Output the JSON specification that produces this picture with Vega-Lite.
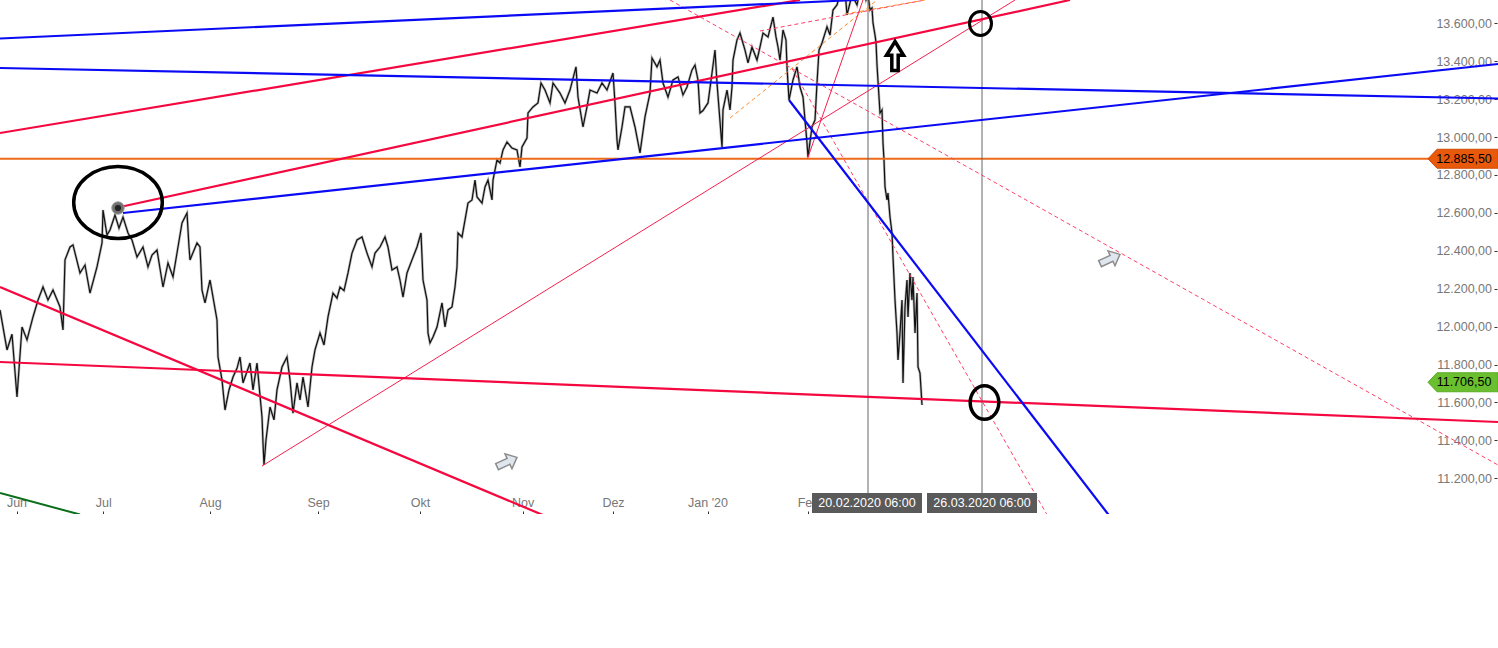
{
  "$schema": "https://vega.github.io/schema/vega-lite/v6.json",
  "width": 1498,
  "height": 514,
  "autosize": "none",
  "padding": 0,
  "background": "white",
  "config": {"view": {"stroke": null}},
  "datasets": {
    "px": [
      {"t":0,"p":12088},{"t":7,"p":11877},{"t":12,"p":11960},{"t":17,"p":11629},{"t":22,"p":11998},{"t":27,"p":11930},{"t":33,"p":12051},{"t":38,"p":12140},{"t":43,"p":12209},{"t":48,"p":12140},{"t":53,"p":12193},{"t":60,"p":12104},{"t":63,"p":11982},{"t":65,"p":12352},{"t":70,"p":12420},{"t":73,"p":12431},{"t":80,"p":12283},{"t":85,"p":12325},{"t":90,"p":12177},{"t":97,"p":12315},{"t":102,"p":12441},{"t":103,"p":12615},{"t":107,"p":12483},{"t":110,"p":12510},{"t":115,"p":12589},{"t":119,"p":12520},{"t":123,"p":12578},{"t":128,"p":12494},{"t":132,"p":12457},{"t":137,"p":12367},{"t":143,"p":12420},{"t":148,"p":12315},{"t":152,"p":12378},{"t":157,"p":12404},{"t":163,"p":12209},{"t":168,"p":12336},{"t":173,"p":12262},{"t":178,"p":12420},{"t":182,"p":12547},{"t":187,"p":12599},{"t":189,"p":12420},{"t":190,"p":12352},{"t":197,"p":12441},{"t":200,"p":12420},{"t":202,"p":12193},{"t":205,"p":12125},{"t":210,"p":12246},{"t":213,"p":12156},{"t":217,"p":12035},{"t":218,"p":11840},{"t":222,"p":11719},{"t":225,"p":11560},{"t":229,"p":11666},{"t":233,"p":11734},{"t":237,"p":11780},{"t":240,"p":11840},{"t":243,"p":11703},{"t":250,"p":11808},{"t":253,"p":11666},{"t":257,"p":11808},{"t":262,"p":11523},{"t":263,"p":11386},{"t":264,"p":11270},{"t":266,"p":11402},{"t":270,"p":11576},{"t":274,"p":11508},{"t":277,"p":11666},{"t":282,"p":11787},{"t":287,"p":11840},{"t":290,"p":11719},{"t":293,"p":11544},{"t":297,"p":11703},{"t":300,"p":11613},{"t":303,"p":11734},{"t":308,"p":11576},{"t":312,"p":11787},{"t":315,"p":11877},{"t":320,"p":11966},{"t":324,"p":11903},{"t":328,"p":12051},{"t":333,"p":12177},{"t":337,"p":12150},{"t":340,"p":12209},{"t":344,"p":12190},{"t":348,"p":12283},{"t":352,"p":12388},{"t":357,"p":12457},{"t":362,"p":12473},{"t":367,"p":12388},{"t":372,"p":12315},{"t":375,"p":12388},{"t":380,"p":12420},{"t":385,"p":12473},{"t":388,"p":12420},{"t":392,"p":12299},{"t":397,"p":12315},{"t":400,"p":12246},{"t":403,"p":12156},{"t":407,"p":12283},{"t":412,"p":12352},{"t":417,"p":12420},{"t":421,"p":12494},{"t":423,"p":12246},{"t":427,"p":12140},{"t":428,"p":11966},{"t":430,"p":11914},{"t":433,"p":11945},{"t":437,"p":11998},{"t":442,"p":12125},{"t":445,"p":11998},{"t":448,"p":12088},{"t":452,"p":12104},{"t":455,"p":12209},{"t":457,"p":12315},{"t":458,"p":12494},{"t":462,"p":12473},{"t":465,"p":12562},{"t":468,"p":12652},{"t":472,"p":12668},{"t":475,"p":12773},{"t":477,"p":12684},{"t":482,"p":12652},{"t":485,"p":12737},{"t":488,"p":12773},{"t":492,"p":12668},{"t":493,"p":12773},{"t":497,"p":12879},{"t":500,"p":12863},{"t":503,"p":12932},{"t":507,"p":12974},{"t":512,"p":12942},{"t":517,"p":12932},{"t":520,"p":12842},{"t":522,"p":12948},{"t":527,"p":12995},{"t":528,"p":13127},{"t":533,"p":13159},{"t":538,"p":13180},{"t":541,"p":13285},{"t":545,"p":13248},{"t":550,"p":13180},{"t":553,"p":13285},{"t":560,"p":13232},{"t":565,"p":13180},{"t":570,"p":13248},{"t":576,"p":13370},{"t":578,"p":13211},{"t":583,"p":13053},{"t":587,"p":13159},{"t":590,"p":13248},{"t":597,"p":13232},{"t":602,"p":13285},{"t":607,"p":13248},{"t":613,"p":13338},{"t":615,"p":13180},{"t":617,"p":12984},{"t":618,"p":12932},{"t":622,"p":13053},{"t":625,"p":13159},{"t":630,"p":13159},{"t":635,"p":13053},{"t":640,"p":12916},{"t":645,"p":13106},{"t":650,"p":13232},{"t":652,"p":13417},{"t":657,"p":13370},{"t":660,"p":13406},{"t":663,"p":13285},{"t":668,"p":13211},{"t":673,"p":13301},{"t":678,"p":13317},{"t":683,"p":13222},{"t":687,"p":13264},{"t":692,"p":13354},{"t":695,"p":13380},{"t":698,"p":13301},{"t":700,"p":13127},{"t":703,"p":13140},{"t":708,"p":13180},{"t":712,"p":13338},{"t":715,"p":13459},{"t":717,"p":13285},{"t":722,"p":12948},{"t":723,"p":13143},{"t":727,"p":13248},{"t":730,"p":13143},{"t":732,"p":13264},{"t":733,"p":13406},{"t":737,"p":13512},{"t":740,"p":13549},{"t":745,"p":13459},{"t":748,"p":13391},{"t":752,"p":13475},{"t":757,"p":13406},{"t":760,"p":13475},{"t":763,"p":13549},{"t":768,"p":13528},{"t":773,"p":13633},{"t":776,"p":13528},{"t":778,"p":13475},{"t":780,"p":13406},{"t":783,"p":13565},{"t":786,"p":13512},{"t":787,"p":13370},{"t":789,"p":13195},{"t":793,"p":13301},{"t":797,"p":13370},{"t":800,"p":13264},{"t":803,"p":13211},{"t":807,"p":12969},{"t":808,"p":12895},{"t":812,"p":13053},{"t":815,"p":13090},{"t":817,"p":13285},{"t":819,"p":13459},{"t":822,"p":13496},{"t":827,"p":13581},{"t":830,"p":13538},{"t":833,"p":13670},{"t":837,"p":13697},{"t":840,"p":13750},{"t":845,"p":13776},{"t":847,"p":13644},{"t":852,"p":13750},{"t":857,"p":13697},{"t":860,"p":13776},{"t":863,"p":13795},{"t":866,"p":13723},{"t":868,"p":13750},{"t":870,"p":13670},{"t":872,"p":13681},{"t":873,"p":13602},{"t":875,"p":13538},{"t":876,"p":13501},{"t":877,"p":13380},{"t":880,"p":13127},{"t":882,"p":13143},{"t":883,"p":12969},{"t":884,"p":12879},{"t":885,"p":12737},{"t":887,"p":12668},{"t":888,"p":12705},{"t":890,"p":12578},{"t":892,"p":12494},{"t":893,"p":12367},{"t":895,"p":12140},{"t":897,"p":11966},{"t":898,"p":11824},{"t":900,"p":11966},{"t":902,"p":12140},{"t":903,"p":11703},{"t":905,"p":12104},{"t":907,"p":12246},{"t":908,"p":12051},{"t":910,"p":12283},{"t":912,"p":12140},{"t":913,"p":12262},{"t":915,"p":11966},{"t":917,"p":12177},{"t":918,"p":11787},{"t":920,"p":11755},{"t":922,"p":11587}
    ],
    "blue": [
      {"t1":0,"p1":13519.8,"t2":857,"p2":13722.9},
      {"t1":0,"p1":13364.2,"t2":1498,"p2":13203.3},
      {"t1":123,"p1":12599.4,"t2":1498,"p2":13385.3},
      {"t1":789,"p1":13195.4,"t2":1112.6,"p2":10980}
    ],
    "red": [
      {"t1":0,"p1":13021.3,"t2":800,"p2":13722.9},
      {"t1":120,"p1":12631,"t2":1070,"p2":13722.9},
      {"t1":0,"p1":11813.4,"t2":1498,"p2":11496.9},
      {"t1":0,"p1":12209,"t2":566.7,"p2":10953.6}
    ],
    "thin": [
      {"t1":262,"p1":11264.8,"t2":1015,"p2":13722.9},
      {"t1":807.5,"p1":12885.5,"t2":866.5,"p2":13775.6}
    ],
    "dash": [
      {"t1":670,"p1":13722.9,"t2":1498,"p2":11270.1},
      {"t1":792,"p1":13361.6,"t2":1050,"p2":10980},
      {"t1":760,"p1":13559.4,"t2":925,"p2":13722.9}
    ],
    "odash": [
      {"t1":730,"p1":13100.5,"t2":877,"p2":13722.9},
      {"t1":845,"p1":13649,"t2":925,"p2":13722.9}
    ],
    "green": [{"t1":0,"p1":11122.4,"t2":80,"p2":11009}],
    "vlines": [{"t":868,"p1":11122.4,"p2":13800},{"t":982,"p1":11122.4,"p2":13800}],
    "hline": [{"p":12885.5}],
    "dates": [{"t":867,"p":11069.7,"label":"20.02.2020 06:00"},{"t":982,"p":11069.7,"label":"26.03.2020 06:00"}]
  },
  "layer": [
    {
      "data": {"name": "px"},
      "mark": {"type": "line", "stroke": "#666", "strokeWidth": 2.6, "opacity": 0.45, "clip": true},
      "encoding": {
        "x": {"field": "t", "type": "quantitative", "scale": {"domain": [0, 1498], "nice": false, "zero": false},
          "axis": {"values": [16.5, 103.3, 210, 318, 420, 522.7, 613, 707.5, 808],
            "labelExpr": "datum.value < 60 ? 'Jun' : datum.value < 150 ? 'Jul' : datum.value < 260 ? 'Aug' : datum.value < 370 ? 'Sep' : datum.value < 470 ? 'Okt' : datum.value < 570 ? 'Nov' : datum.value < 660 ? 'Dez' : datum.value < 760 ? \"Jan '20\" : 'Feb'",
            "domain": false, "grid": false, "ticks": true, "tickSize": 3, "tickColor": "#333", "offset": -3,
            "labelPadding": -11.5, "labelBaseline": "middle", "labelColor": "#777", "labelFontSize": 12.5,
            "labelFont": "Liberation Sans", "title": null, "labelFlush": false, "labelOverlap": false}},
        "y": {"field": "p", "type": "quantitative", "scale": {"domain": [11011.7, 13722.9], "nice": false, "zero": false},
          "axis": {"orient": "right", "values": [11200, 11400, 11600, 11800, 12000, 12200, 12400, 12600, 12800, 13000, 13200, 13400, 13600],
            "labelExpr": "replace(format(datum.value, ',.0f'), ',', '.') + ',00'",
            "domain": false, "grid": false, "ticks": true, "tickSize": 3, "tickColor": "#333", "offset": -4,
            "labelAlign": "right", "labelPadding": -5.5, "labelBaseline": "middle", "labelColor": "#777",
            "labelFontSize": 12.5, "labelFont": "Liberation Sans", "title": null, "labelOverlap": false}}
      }
    },
    {
      "data": {"name": "px"},
      "mark": {"type": "line", "stroke": "#111", "strokeWidth": 1.2, "clip": true},
      "encoding": {
        "x": {"field": "t", "type": "quantitative"},
        "y": {"field": "p", "type": "quantitative"}
      }
    },
    {
      "data": {"name": "hline"},
      "mark": {"type": "rule", "stroke": "#ee6a1a", "strokeWidth": 2, "clip": true},
      "encoding": {
        "y": {"field": "p", "type": "quantitative"}
      }
    },
    {
      "data": {"name": "green"},
      "mark": {"type": "rule", "stroke": "#0b6e1a", "strokeWidth": 2, "clip": true},
      "encoding": {
        "x": {"field": "t1", "type": "quantitative"},
        "x2": {"field": "t2"},
        "y": {"field": "p1", "type": "quantitative"},
        "y2": {"field": "p2"}
      }
    },
    {
      "data": {"name": "vlines"},
      "mark": {"type": "rule", "stroke": "#666", "strokeWidth": 1, "clip": true},
      "encoding": {
        "x": {"field": "t", "type": "quantitative"},
        "y": {"field": "p1", "type": "quantitative"},
        "y2": {"field": "p2"}
      }
    },
    {
      "data": {"name": "dash"},
      "mark": {"type": "rule", "stroke": "#ff4068", "strokeWidth": 1, "strokeDash": [4, 3], "clip": true},
      "encoding": {
        "x": {"field": "t1", "type": "quantitative"},
        "x2": {"field": "t2"},
        "y": {"field": "p1", "type": "quantitative"},
        "y2": {"field": "p2"}
      }
    },
    {
      "data": {"name": "odash"},
      "mark": {"type": "rule", "stroke": "#ff8a2a", "strokeWidth": 1, "strokeDash": [4, 3], "clip": true},
      "encoding": {
        "x": {"field": "t1", "type": "quantitative"},
        "x2": {"field": "t2"},
        "y": {"field": "p1", "type": "quantitative"},
        "y2": {"field": "p2"}
      }
    },
    {
      "data": {"name": "thin"},
      "mark": {"type": "rule", "stroke": "#f5204f", "strokeWidth": 1, "clip": true},
      "encoding": {
        "x": {"field": "t1", "type": "quantitative"},
        "x2": {"field": "t2"},
        "y": {"field": "p1", "type": "quantitative"},
        "y2": {"field": "p2"}
      }
    },
    {
      "data": {"name": "red"},
      "mark": {"type": "rule", "stroke": "#f5073f", "strokeWidth": 2.2, "clip": true},
      "encoding": {
        "x": {"field": "t1", "type": "quantitative"},
        "x2": {"field": "t2"},
        "y": {"field": "p1", "type": "quantitative"},
        "y2": {"field": "p2"}
      }
    },
    {
      "data": {"name": "blue"},
      "mark": {"type": "rule", "stroke": "#0a0af5", "strokeWidth": 2.2, "clip": true},
      "encoding": {
        "x": {"field": "t1", "type": "quantitative"},
        "x2": {"field": "t2"},
        "y": {"field": "p1", "type": "quantitative"},
        "y2": {"field": "p2"}
      }
    },
    {
      "data": {"values": [{"t": 118, "p": 12625.7}]},
      "mark": {"type": "point", "shape": "circle", "size": 154, "filled": true, "fill": "#707070", "stroke": "#9a9a9a", "strokeWidth": 1, "opacity": 1},
      "encoding": {
        "x": {"field": "t", "type": "quantitative"},
        "y": {"field": "p", "type": "quantitative"}
      }
    },
    {
      "data": {"values": [{"t": 118, "p": 12625.7}]},
      "mark": {"type": "point", "shape": "circle", "size": 38, "filled": true, "fill": "#222", "opacity": 1},
      "encoding": {
        "x": {"field": "t", "type": "quantitative"},
        "y": {"field": "p", "type": "quantitative"}
      }
    },
    {
      "data": {"values": [{"t": 118, "p": 12654.8}]},
      "mark": {"type": "point", "shape": "M -1 0 A 1 0.813 0 1 1 1 0 A 1 0.813 0 1 1 -1 0 Z", "size": 7850, "filled": false, "stroke": "#000", "strokeWidth": 3.5, "opacity": 1},
      "encoding": {
        "x": {"field": "t", "type": "quantitative"},
        "y": {"field": "p", "type": "quantitative"}
      }
    },
    {
      "data": {"values": [{"t": 980.5, "p": 13599}]},
      "mark": {"type": "point", "shape": "M -1 0 A 1 1.09 0 1 1 1 0 A 1 1.09 0 1 1 -1 0 Z", "size": 484, "filled": false, "stroke": "#000", "strokeWidth": 3, "opacity": 1},
      "encoding": {
        "x": {"field": "t", "type": "quantitative"},
        "y": {"field": "p", "type": "quantitative"}
      }
    },
    {
      "data": {"values": [{"t": 984.5, "p": 11600}]},
      "mark": {"type": "point", "shape": "M -1 0 A 1 1.175 0 1 1 1 0 A 1 1.175 0 1 1 -1 0 Z", "size": 818, "filled": false, "stroke": "#000", "strokeWidth": 3.5, "opacity": 1},
      "encoding": {
        "x": {"field": "t", "type": "quantitative"},
        "y": {"field": "p", "type": "quantitative"}
      }
    },
    {
      "data": {"values": [{"t": 895, "p": 13427.5}]},
      "mark": {"type": "point", "shape": "M 0 -1 L 0.59 -0.05 L 0.22 -0.05 L 0.22 1 L -0.22 1 L -0.22 -0.05 L -0.59 -0.05 Z", "size": 841, "filled": true, "fill": "#fff", "stroke": "#000", "strokeWidth": 3.5, "strokeJoin": "miter", "opacity": 1},
      "encoding": {
        "x": {"field": "t", "type": "quantitative"},
        "y": {"field": "p", "type": "quantitative"}
      }
    },
    {
      "data": {"values": [{"t": 507, "p": 11285.9}, {"t": 1110, "p": 12356.7}]},
      "mark": {"type": "point", "shape": "M -1 -0.3 L 0.15 -0.3 L 0.15 -0.75 L 1 0 L 0.15 0.75 L 0.15 0.3 L -1 0.3 Z", "size": 484, "angle": -25, "filled": true, "fill": "#dfe6ee", "stroke": "#8c8c8c", "strokeWidth": 1.5, "opacity": 1},
      "encoding": {
        "x": {"field": "t", "type": "quantitative"},
        "y": {"field": "p", "type": "quantitative"}
      }
    },
    {
      "data": {"values": [{"t": 1463, "p": 12885.5}]},
      "mark": {"type": "point", "shape": "M -1 0 L -0.743 -0.271 L 1 -0.271 L 1 0.271 L -0.743 0.271 Z", "size": 4900, "filled": true, "fill": "#e8590c", "stroke": "#d04c05", "strokeWidth": 1, "opacity": 1},
      "encoding": {
        "x": {"field": "t", "type": "quantitative"},
        "y": {"field": "p", "type": "quantitative"}
      }
    },
    {
      "data": {"values": [{"t": 1463, "p": 11706.5}]},
      "mark": {"type": "point", "shape": "M -1 0 L -0.743 -0.271 L 1 -0.271 L 1 0.271 L -0.743 0.271 Z", "size": 4900, "filled": true, "fill": "#6abf2e", "stroke": "#5aaa25", "strokeWidth": 1, "opacity": 1},
      "encoding": {
        "x": {"field": "t", "type": "quantitative"},
        "y": {"field": "p", "type": "quantitative"}
      }
    },
    {
      "data": {"values": [{"t": 1464, "p": 12885.5, "label": "12.885,50"}, {"t": 1464, "p": 11706.5, "label": "11.706,50"}]},
      "mark": {"type": "text", "align": "center", "baseline": "middle", "font": "Liberation Sans", "fontSize": 12.5, "color": "#000"},
      "encoding": {
        "x": {"field": "t", "type": "quantitative"},
        "y": {"field": "p", "type": "quantitative"},
        "text": {"field": "label"}
      }
    },
    {
      "data": {"name": "dates"},
      "mark": {"type": "point", "shape": "M -1 -0.182 L 1 -0.182 L 1 0.182 L -1 0.182 Z", "size": 12100, "filled": true, "fill": "#5a5a5a", "opacity": 1},
      "encoding": {
        "x": {"field": "t", "type": "quantitative"},
        "y": {"field": "p", "type": "quantitative"}
      }
    },
    {
      "data": {"name": "dates"},
      "mark": {"type": "text", "align": "center", "baseline": "middle", "font": "Liberation Sans", "fontSize": 12.5, "color": "#fff"},
      "encoding": {
        "x": {"field": "t", "type": "quantitative"},
        "y": {"field": "p", "type": "quantitative"},
        "text": {"field": "label"}
      }
    }
  ]
}
